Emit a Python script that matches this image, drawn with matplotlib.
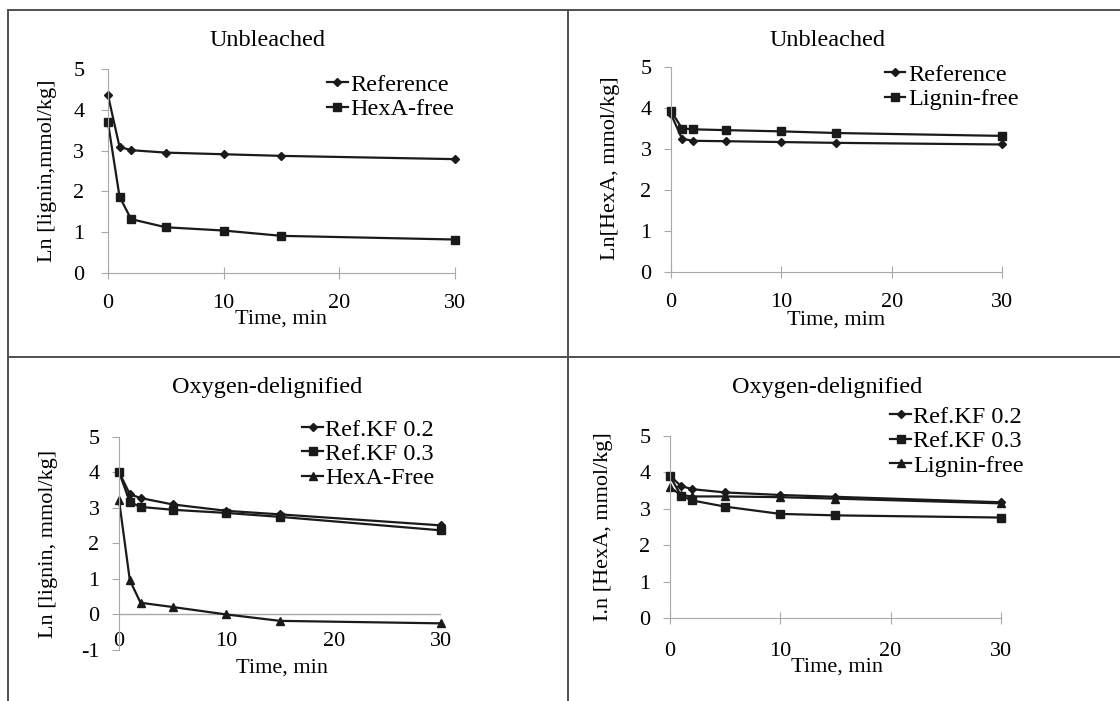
import matplotlib
matplotlib.use('Agg')
import matplotlib.pyplot as plt
from matplotlib.lines import Line2D

plt.rcParams['font.family'] = ['Liberation Serif', 'DejaVu Serif']
plt.rcParams['axes.unicode_minus'] = False

# Time points (min)
time = [0, 1, 2, 5, 10, 15, 30]

# Unbleached, Ln[lignin]
ub_lig_reference = [4.36, 3.09, 3.01, 2.95, 2.91, 2.87, 2.79]
ub_lig_hexa_free = [3.69, 1.87, 1.32, 1.12, 1.04, 0.91, 0.82]

# Unbleached, Ln[HexA]
ub_hexa_reference = [3.85, 3.25, 3.20, 3.19, 3.17, 3.15, 3.11]
ub_hexa_lignin_free = [3.93, 3.50, 3.48, 3.46, 3.43, 3.39, 3.32]

# Oxygen-delignified, Ln[lignin]
od_lig_kf02 = [4.01, 3.39, 3.28, 3.10, 2.92, 2.82, 2.51]
od_lig_kf03 = [4.01, 3.17, 3.03, 2.95, 2.86, 2.75, 2.37]
od_lig_hexa_free = [3.22, 0.97, 0.33, 0.21, 0.00, -0.18, -0.25]

# Oxygen-delignified, Ln[HexA]
od_hexa_kf02 = [3.90, 3.63, 3.54, 3.45, 3.38, 3.33, 3.18]
od_hexa_kf03 = [3.90, 3.36, 3.23, 3.06, 2.86, 2.82, 2.76]
od_hexa_lignin_free = [3.59, 3.38, 3.34, 3.34, 3.32, 3.28, 3.15]

x_ticks = [0, 10, 20, 30]

LINE = '#1a1a1a'
AXIS = '#a8a8a8'
markers = {'diamond': dict(marker='D', markersize=4),
           'square': dict(marker='s', markersize=6),
           'triangle': dict(marker='^', markersize=6)}

fig = plt.figure(figsize=(11.2, 7.01), dpi=100)

# panel separator lines (like a table)
for xs, ys in [([8/1120, 8/1120], [0, 1 - 10/701]),
               ([8/1120, 1], [1 - 10/701, 1 - 10/701]),
               ([568/1120, 568/1120], [0, 1 - 10/701]),
               ([8/1120, 1], [1 - 357/701, 1 - 357/701])]:
    fig.add_artist(Line2D(xs, ys, transform=fig.transFigure, color='#505050', lw=1.4))


def panel(rect, title, title_xy, series, ylim, ylabel, ylab_xy, xlabel, xlab_xy,
          leg_xy, ypad, xpad):
    ax = fig.add_axes(rect)
    for y, label, m in series:
        ax.plot(time, y, color=LINE, lw=1.6, label=label, clip_on=False, **markers[m])
    ax.set_xlim(0, 30)
    ax.set_ylim(*ylim)
    ax.set_xticks(x_ticks)
    ax.set_yticks(range(ylim[0], ylim[1] + 1))
    for s in ['top', 'right']:
        ax.spines[s].set_visible(False)
    ax.spines['left'].set_color(AXIS)
    ax.spines['bottom'].set_color(AXIS)
    ax.tick_params(axis='y', direction='out', length=5, color=AXIS, labelsize=16, pad=ypad)
    ax.tick_params(axis='x', direction='inout', length=8, color=AXIS, labelsize=16, pad=xpad)
    ax.set_ylabel(ylabel, fontsize=16)
    ax.yaxis.set_label_coords(*ylab_xy)
    ax.set_xlabel(xlabel, fontsize=16)
    ax.xaxis.set_label_coords(*xlab_xy)
    fig.text(title_xy[0] / 1120, 1 - title_xy[1] / 701, title, fontsize=17.5,
             ha='center', va='center')
    ax.legend(loc='upper left', bbox_to_anchor=leg_xy, bbox_transform=fig.transFigure,
              frameon=False, fontsize=17.5, handlelength=0.85, handletextpad=0.1,
              labelspacing=0.1, borderpad=0, borderaxespad=0)
    return ax


panel([0.0964, 0.6106, 0.3098, 0.291], 'Unbleached', (268, 40),
      [(ub_lig_reference, 'Reference', 'diamond'),
       (ub_lig_hexa_free, 'HexA-free', 'square')],
      (0, 5), 'Ln [lignin,mmol/kg]', (-0.147, 0.5), 'Time, min', (0.5, -0.18),
      (0.292, 0.895), 12, 11)

panel([0.5991, 0.612, 0.2955, 0.2924], 'Unbleached', (828, 40),
      [(ub_hexa_reference, 'Reference', 'diamond'),
       (ub_hexa_lignin_free, 'Lignin-free', 'square')],
      (0, 5), 'Ln[HexA, mmol/kg]', (-0.154, 0.507), 'Time, mim', (0.5, -0.19),
      (0.790, 0.909), 9, 11)

ax = panel([0.1063, 0.0728, 0.2875, 0.3038], 'Oxygen-delignified', (267, 387),
           [(od_lig_kf02, 'Ref.KF 0.2', 'diamond'),
            (od_lig_kf03, 'Ref.KF 0.3', 'square'),
            (od_lig_hexa_free, 'HexA-Free', 'triangle')],
           (-1, 5), 'Ln [lignin, mmol/kg]', (-0.19, 0.5), 'Time, min', (0.506, -0.04),
           (0.270, 0.403), 9, -13)
# horizontal axis crosses at zero here
ax.spines['bottom'].set_visible(False)
ax.axhline(0, color=AXIS, lw=1.0, zorder=0)
ax.tick_params(axis='x', length=0)

panel([0.5982, 0.1184, 0.2955, 0.2596], 'Oxygen-delignified', (827, 387),
      [(od_hexa_kf02, 'Ref.KF 0.2', 'diamond'),
       (od_hexa_kf03, 'Ref.KF 0.3', 'square'),
       (od_hexa_lignin_free, 'Lignin-free', 'triangle')],
      (0, 5), 'I.n [HexA, mmol/kg]', (-0.172, 0.5), 'Time, min', (0.505, -0.22),
      (0.795, 0.421), 9, 13)

fig.savefig('out.png', dpi=100)
